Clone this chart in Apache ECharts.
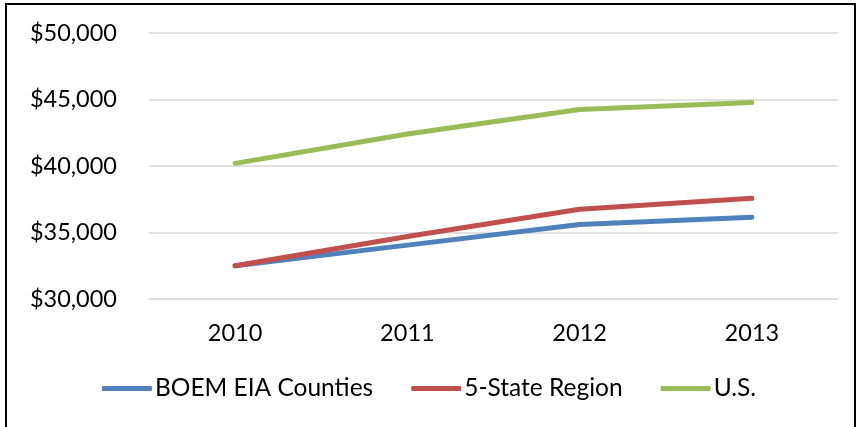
<!DOCTYPE html>
<html>
<head>
<meta charset="utf-8">
<script src="https://cdn.jsdelivr.net/npm/echarts@6/dist/echarts.min.js"></script>
<style>
  html, body { margin: 0; padding: 0; background: #fff; }
  #chart { width: 858px; height: 427px; }
</style>
</head>
<body>
<div id="chart"></div>
<script>
// data
const years = ['2010', '2011', '2012', '2013'];
const boemCounties = [32500, 34050, 35600, 36150];
const fiveStateRegion = [32500, 34700, 36750, 37570];
const usValues = [40200, 42400, 44250, 44780];

const FONT = 'Lato';

const chart = echarts.init(document.getElementById('chart'), null, { renderer: 'canvas' });

const lineSeries = (name, data, color) => ({
  name,
  type: 'line',
  data,
  symbol: 'none',
  lineStyle: { width: 5, color, cap: 'round' },
  itemStyle: { color },
  animation: false
});

chart.setOption({
  backgroundColor: '#fff',
  textStyle: { fontFamily: FONT },
  grid: { left: 149, right: 20, top: 33, bottom: 128 },
  xAxis: {
    type: 'category',
    data: years,
    boundaryGap: true,
    axisLine: { show: false },
    axisTick: { show: false },
    axisLabel: { color: '#000', fontSize: 23.5, fontFamily: FONT, margin: 22 }
  },
  yAxis: {
    type: 'value',
    min: 30000,
    max: 50000,
    interval: 5000,
    axisLine: { show: false },
    axisTick: { show: false },
    splitLine: { lineStyle: { color: '#d9d9d9', width: 1.5 } },
    axisLabel: {
      color: '#000',
      fontSize: 23.5,
      fontFamily: FONT,
      margin: 32,
      formatter: v => '$' + v.toLocaleString('en-US')
    }
  },
  legend: {
    bottom: 21,
    left: 'center',
    itemWidth: 50,
    itemHeight: 5,
    itemGap: 38,
    icon: 'roundRect',
    textStyle: { color: '#000', fontSize: 24.5, fontFamily: FONT, padding: [0, 0, 0, -2] },
    data: ['BOEM EIA Counties', '5-State Region', 'U.S.']
  },
  graphic: [{
    type: 'rect',
    shape: { x: 6, y: 4, width: 849, height: 424 },
    style: { fill: 'none', stroke: '#000', lineWidth: 2 },
    silent: true
  }],
  series: [
    lineSeries('BOEM EIA Counties', boemCounties, '#4f81bd'),
    lineSeries('5-State Region', fiveStateRegion, '#c0504d'),
    lineSeries('U.S.', usValues, '#9bbb59')
  ]
});
</script>
</body>
</html>
